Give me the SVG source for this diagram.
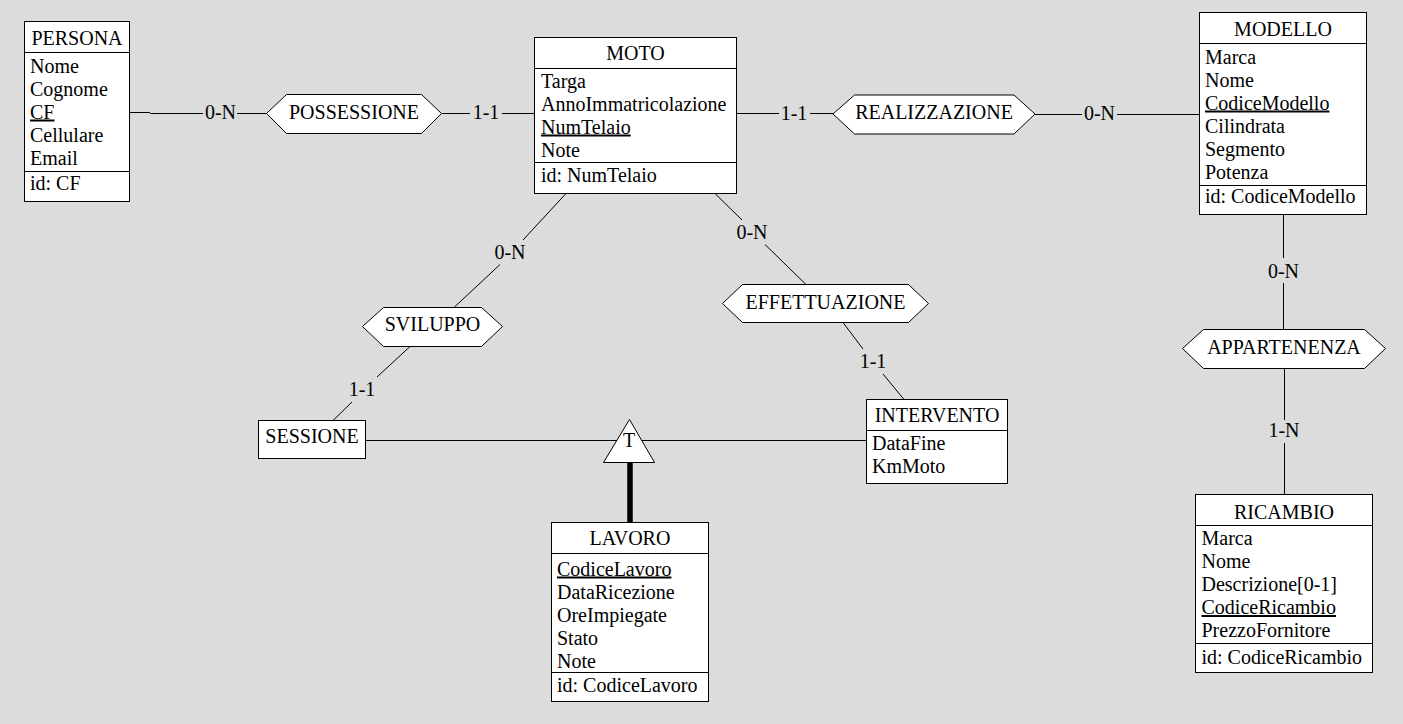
<svg xmlns="http://www.w3.org/2000/svg" width="1403" height="724" viewBox="0 0 1403 724">
<style>
text{font-family:"Liberation Serif","Times New Roman",serif;font-size:20px;fill:#000}
.c{text-anchor:middle}
.u{text-decoration:underline}
.box{fill:#fff;stroke:#000;stroke-width:1}
.ln{stroke:#000;stroke-width:1;fill:none}
.thick{stroke:#000;stroke-width:5.5;fill:none}
</style>
<rect x="0" y="0" width="1403" height="724" fill="#dcdcdc"/>
<g id="connectors">
<path class="ln" d="M129.5,112.5H150M150,113.5H203M237,113.5H266.5"/>
<text class="c" x="220.5" y="119">0-N</text>
<path class="ln" d="M441.5,113.5H470M502,113.5H534.5"/>
<text class="c" x="486" y="119">1-1</text>
<path class="ln" d="M736.5,113.5H779M810,113.5H833"/>
<text class="c" x="794" y="119.5">1-1</text>
<path class="ln" d="M1035,114.5H1082M1117,114.5H1199.5"/>
<text class="c" x="1099.5" y="120">0-N</text>
<path class="ln" d="M1283.5,214.5V258M1283.5,283V329.5"/>
<text class="c" x="1283.5" y="277.5">0-N</text>
<path class="ln" d="M1284.5,368.5V420M1284.5,443V494.5"/>
<text class="c" x="1284" y="437">1-N</text>
<path class="ln" d="M566,193.5L523,240M500,264.5L454,307.5"/>
<text class="c" x="510" y="259">0-N</text>
<path class="ln" d="M410,346.5L377,377M352,402L333,420.5"/>
<text class="c" x="362" y="396">1-1</text>
<path class="ln" d="M715,193.5L742,220M765,244.5L806,284.5"/>
<text class="c" x="752" y="238.5">0-N</text>
<path class="ln" d="M843,322.5L863,349M883,374L904,399.5"/>
<text class="c" x="873" y="367.5">1-1</text>
<path class="ln" d="M365.5,440.5H866.5"/>
<path class="thick" d="M630,462V522.5"/>
</g>
<g id="isa">
<polygon class="box" points="629.5,419.5 603.5,462.5 654.5,462.5"/>
<text class="c" x="629" y="447">T</text>
</g>
<g id="persona">
<rect class="box" x="24.5" y="21.5" width="105" height="180"/>
<path class="ln" d="M24.5,52.5H129.5M24.5,171.5H129.5"/>
<text class="c" x="77" y="45">PERSONA</text>
<text x="30" y="72.5">Nome</text>
<text x="30" y="95.5">Cognome</text>
<text class="u" x="30" y="118.5">CF</text>
<text x="30" y="141.5">Cellulare</text>
<text x="30" y="164.5">Email</text>
<text x="30" y="189.5">id: CF</text>
</g>
<g id="moto">
<rect class="box" x="534.5" y="37.5" width="202" height="156"/>
<path class="ln" d="M534.5,68.5H736.5M534.5,162.5H736.5"/>
<text class="c" x="635.5" y="60">MOTO</text>
<text x="541" y="87.5">Targa</text>
<text x="541" y="110.5">AnnoImmatricolazione</text>
<text class="u" x="541" y="133.5">NumTelaio</text>
<text x="541" y="156.5">Note</text>
<text x="541" y="181.5">id: NumTelaio</text>
</g>
<g id="modello">
<rect class="box" x="1199.5" y="12.5" width="167" height="202"/>
<path class="ln" d="M1199.5,43.5H1366.5M1199.5,185.5H1366.5"/>
<text class="c" x="1283" y="36">MODELLO</text>
<text x="1205" y="63.5">Marca</text>
<text x="1205" y="86.5">Nome</text>
<text class="u" x="1205" y="109.5">CodiceModello</text>
<text x="1205" y="132.5">Cilindrata</text>
<text x="1205" y="155.5">Segmento</text>
<text x="1205" y="178.5">Potenza</text>
<text x="1205" y="203">id: CodiceModello</text>
</g>
<g id="ricambio">
<rect class="box" x="1195.5" y="494.5" width="177" height="178"/>
<path class="ln" d="M1195.5,525.5H1372.5M1195.5,643.5H1372.5"/>
<text class="c" x="1284" y="518.5">RICAMBIO</text>
<text x="1201.5" y="545">Marca</text>
<text x="1201.5" y="568">Nome</text>
<text x="1201.5" y="591">Descrizione[0-1]</text>
<text class="u" x="1201.5" y="614">CodiceRicambio</text>
<text x="1201.5" y="637">PrezzoFornitore</text>
<text x="1201.5" y="664">id: CodiceRicambio</text>
</g>
<g id="lavoro">
<rect class="box" x="551.5" y="522.5" width="157" height="179"/>
<path class="ln" d="M551.5,553.5H708.5M551.5,672.5H708.5"/>
<text class="c" x="630" y="545">LAVORO</text>
<text class="u" x="557" y="575.5">CodiceLavoro</text>
<text x="557" y="598.5">DataRicezione</text>
<text x="557" y="621.5">OreImpiegate</text>
<text x="557" y="644.5">Stato</text>
<text x="557" y="667.5">Note</text>
<text x="557" y="691.5">id: CodiceLavoro</text>
</g>
<g id="intervento">
<rect class="box" x="866.5" y="399.5" width="141" height="84"/>
<path class="ln" d="M866.5,430.5H1007.5"/>
<text class="c" x="937" y="421.5">INTERVENTO</text>
<text x="872" y="450">DataFine</text>
<text x="872" y="472.5">KmMoto</text>
</g>
<g id="sessione">
<rect class="box" x="258.5" y="420.5" width="107" height="38"/>
<text class="c" x="312" y="443">SESSIONE</text>
</g>
<g id="possessione">
<polygon class="box" points="266.5,113.5 286.5,94.5 421.5,94.5 441.5,113.5 421.5,133.5 286.5,133.5"/>
<text class="c" x="354" y="118.5">POSSESSIONE</text>
</g>
<g id="realizzazione">
<polygon class="box" points="833,114 854.5,95 1014,95 1035,114 1014,134 854.5,134"/>
<text class="c" x="934" y="119">REALIZZAZIONE</text>
</g>
<g id="sviluppo">
<polygon class="box" points="362.5,326.5 383.5,307.5 481.5,307.5 502.5,326.5 481.5,346.5 383.5,346.5"/>
<text class="c" x="432.5" y="331">SVILUPPO</text>
</g>
<g id="effettuazione">
<polygon class="box" points="722.5,303.5 742.5,284.5 908.5,284.5 928.5,303.5 908.5,322.5 742.5,322.5"/>
<text class="c" x="825.5" y="308.5">EFFETTUAZIONE</text>
</g>
<g id="appartenenza">
<polygon class="box" points="1182.5,348.5 1203.5,329.5 1364.5,329.5 1385.5,348.5 1364.5,368.5 1203.5,368.5"/>
<text class="c" x="1284" y="353.5">APPARTENENZA</text>
</g>
</svg>
